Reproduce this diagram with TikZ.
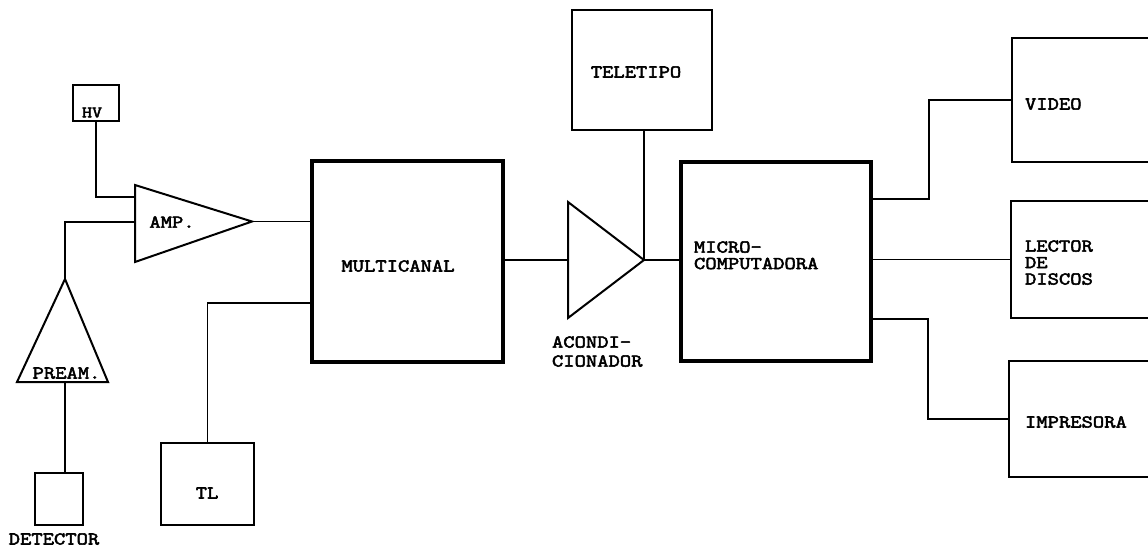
\documentclass[tikz,border=0pt]{standalone}
\usepackage{fontspec}
\newfontfamily\twfont{Latin Modern Mono}[FakeBold=3, FakeStretch=1.22]
\begin{document}
\begin{tikzpicture}[x=1pt,y=-1pt,
  every node/.style={font=\fontsize{18}{16.5}\selectfont\twfont, inner sep=0pt, outer sep=0pt},
  box/.style={draw, line width=2.2pt},
  bigbox/.style={draw, line width=3.2pt},
  wire/.style={line width=1.8pt},
  tri/.style={line width=2pt, line join=miter}]
\useasboundingbox (0,0) rectangle (1148,548);
\clip (0,0) rectangle (1148,548);

% boxes
\node[box, minimum width=46pt, minimum height=36pt] (hv) at (96,103) {};
\node[box, minimum width=48pt, minimum height=52pt] (det) at (59,499) {};
\node[bigbox, minimum width=191pt, minimum height=201pt] (multi) at (407.5,261.5) {};
\node[box, minimum width=93pt, minimum height=82pt] (tl) at (207.5,484) {};
\node[box, minimum width=140pt, minimum height=120pt] (tele) at (642,70) {};
\node[bigbox, minimum width=190pt, minimum height=199pt] (micro) at (776,261.5) {};
\node[box, minimum width=158pt, minimum height=124pt] (video) at (1091,100) {};
\node[box, minimum width=159pt, minimum height=117pt] (lector) at (1090.5,259.5) {};
\node[box, minimum width=161pt, minimum height=116pt] (impr) at (1089.5,419) {};

% triangles
\coordinate (ampT) at (135,185);
\coordinate (ampB) at (135,262);
\coordinate (ampO) at (252,221.5);
\coordinate (ampHV) at (135,197);
\coordinate (ampIn) at (135,222);
\draw[tri] (ampT) -- (ampO) -- (ampB) -- cycle;

\coordinate (preA) at (65,279);
\coordinate (preL) at (17,382);
\coordinate (preR) at (108,382);
\coordinate (preBot) at (65,382);
\draw[tri] (preA) -- (preR) -- (preL) -- cycle;

\coordinate (acT) at (568,202);
\coordinate (acB) at (568,318);
\coordinate (acO) at (644,260);
\coordinate (acIn) at (568,260);
\draw[tri] (acT) -- (acO) -- (acB) -- cycle;

\coordinate (mIn2) at (312,303);
\coordinate (mo1) at (871,199);
\coordinate (mo2) at (871,319);

% texts
\node[anchor=west, font=\fontsize{16}{16}\selectfont\twfont] (hvt) at (82,112.5) {HV};
\node (ampt) at (172,222) {AMP.};
\node (pret) at (66.5,373) {PREAM.};
\node (dett) at (54,539) {DETECTOR};
\node (tlt) at (207,493) {TL};
\node (multit) at (398,266) {MULTICANAL};
\node (telet) at (636,72) {TELETIPO};
\node[anchor=north west] (acondt) at (552,336) {\begin{tabular}{@{}l@{}}ACONDI-\\[2.5pt]CIONADOR\end{tabular}};
\node[anchor=north west] (microt) at (694,241) {\begin{tabular}{@{}l@{}}MICRO-\\COMPUTADORA\end{tabular}};
\node[anchor=west] (videot) at (1025,104) {VIDEO};
\node[anchor=north west] (lectort) at (1025,240) {\begin{tabular}{@{}l@{}}LECTOR\\DE\\DISCOS\end{tabular}};
\node[anchor=west] (imprt) at (1025,422) {IMPRESORA};

% wires
\draw[wire] (hv.south) |- (ampHV);
\draw[wire] (ampIn) -| (preA);
\draw[wire] (preBot) -- (preBot |- det.north);
\draw[wire] (ampO) -- (ampO -| multi.west);
\draw[wire] (tl.north) |- (mIn2);
\draw[wire] (acIn -| multi.east) -- (acIn);
\draw[wire] (tele.south -| acO) -- (acO);
\draw[wire] (acO) -- (acO -| micro.west);
\draw[wire] (mo1) -- ++(58,0) |- (video.west);
\draw[wire] (lector.west -| micro.east) -- (lector.west);
\draw[wire] (mo2) -- ++(57,0) |- (impr.west);
\end{tikzpicture}
\end{document}
